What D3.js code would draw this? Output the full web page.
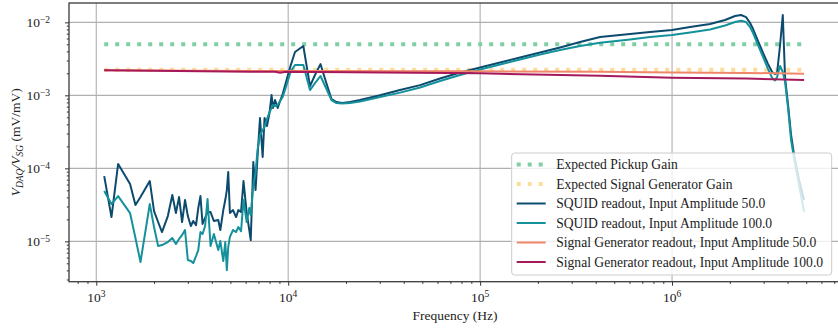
<!DOCTYPE html>
<html>
<head>
<meta charset="utf-8">
<script src="https://cdn.jsdelivr.net/npm/d3@7"></script>
<style>
  body { margin: 0; background: #fff; }
  svg { display: block; font-family: "Liberation Serif", "DejaVu Serif", serif; }
</style>
</head>
<body>
<svg id="chart" width="838" height="330"></svg>
<script>
// Data
const freq = [
    1100, 1200, 1300, 1500, 1600, 1700, 1900, 2000, 2100, 2200,
    2360, 2490, 2600, 2700, 2800, 2900, 3000, 3110, 3200, 3310,
    3400, 3490, 3580, 3690, 3800, 3940, 4100, 4320, 4430, 4590,
    4700, 4790, 4870, 4970, 5160, 5350, 5500, 5680, 5850, 6080,
    6270, 6380, 6580, 6760, 6920, 7130, 7360, 7530, 7750, 7990,
    8190, 8330, 8540, 8820, 9070, 9360, 9740, 10280, 10850, 11990,
    12990, 13790, 14730, 15740, 16810, 17850, 19070, 20990, 23660, 30090,
    38240, 48630, 61810, 78600, 1.0e5, 1.27e5, 1.614e5, 2.053e5, 2.609e5, 3.317e5,
    4.215e5, 6.041e5, 7.681e5, 1.0e6, 1.241e6, 1.578e6, 1.889e6, 2.13e6, 2.289e6, 2.43e6,
    2.55e6, 2.643e6, 2.806e6, 2.98e6, 3.165e6, 3.32e6, 3.441e6, 3.526e6, 3.654e6, 3.775e6,
    3.881e6, 4.023e6, 4.17e6, 4.322e6, 4.589e6, 4.876e6
];

const squid50 = [
    7.84e-5, 2.15e-5, 1.15e-4, 6.09e-5, 3.14e-5, 4.04e-5, 6.70e-5, 2.60e-5, 1.84e-5, 1.34e-5,
    2.22e-5, 4.31e-5, 2.44e-5, 4.04e-5, 1.84e-5, 3.68e-5, 2.22e-5, 1.62e-5, 1.90e-5, 1.67e-5,
    2.86e-5, 4.17e-5, 1.73e-5, 2.09e-5, 2.52e-5, 2.52e-5, 1.90e-5, 1.96e-5, 1.43e-5, 2.68e-5,
    3.68e-5, 5.04e-5, 8.90e-5, 2.44e-5, 2.68e-5, 2.15e-5, 2.68e-5, 2.52e-5, 6.70e-5, 2.44e-5,
    1.43e-5, 1.04e-5, 1.22e-4, 5.04e-5, 1.43e-4, 4.89e-4, 1.43e-4, 4.89e-4, 3.80e-4, 5.72e-4,
    1.01e-3, 6.70e-4, 8.62e-4, 6.70e-4, 8.35e-4, 1.04e-3, 1.52e-3, 2.52e-3, 3.92e-3, 4.74e-3,
    1.34e-3, 1.90e-3, 2.68e-3, 1.52e-3, 8.90e-4, 8.09e-4, 7.84e-4, 8.09e-4, 8.62e-4, 1.00e-3,
    1.18e-3, 1.38e-3, 1.70e-3, 2.05e-3, 2.40e-3, 2.81e-3, 3.30e-3, 3.86e-3, 4.52e-3, 5.37e-3,
    6.29e-3, 6.91e-3, 7.37e-3, 7.84e-3, 8.62e-3, 9.48e-3, 1.075e-2, 1.22e-2, 1.26e-2, 1.18e-2,
    9.78e-3, 8.09e-3, 5.54e-3, 3.80e-3, 2.68e-3, 2.09e-3, 1.96e-3, 2.02e-3, 4.89e-3, 1.26e-2,
    1.73e-3, 7.37e-4, 2.86e-4, 1.52e-4, 6.91e-5, 3.68e-5
];

const squid100 = [
    4.89e-5, 3.24e-5, 4.17e-5, 2.44e-5, 1.11e-5, 5.21e-6, 3.24e-5, 1.57e-5, 8.62e-6, 8.90e-6,
    9.78e-6, 1.11e-5, 9.18e-6, 1.08e-5, 1.22e-5, 1.43e-5, 5.54e-6, 5.37e-6, 5.04e-6, 6.29e-6,
    7.60e-6, 1.34e-5, 1.26e-5, 1.62e-5, 3.80e-5, 8.62e-6, 1.26e-5, 7.60e-6, 1.01e-5, 5.37e-6,
    9.78e-6, 4.04e-6, 8.35e-6, 1.15e-5, 1.43e-5, 1.34e-5, 1.57e-5, 1.38e-5, 3.68e-5, 1.84e-5,
    2.86e-5, 2.29e-5, 5.90e-5, 8.62e-5, 1.78e-4, 2.86e-4, 3.35e-4, 3.68e-4, 4.74e-4, 5.90e-4,
    6.70e-4, 7.37e-4, 7.14e-4, 7.37e-4, 8.35e-4, 9.48e-4, 1.30e-3, 2.09e-3, 2.60e-3, 2.60e-3,
    1.18e-3, 1.47e-3, 1.84e-3, 1.26e-3, 8.62e-4, 7.84e-4, 7.72e-4, 7.84e-4, 8.22e-4, 9.48e-4,
    1.09e-3, 1.28e-3, 1.57e-3, 1.90e-3, 2.26e-3, 2.64e-3, 3.09e-3, 3.62e-3, 4.17e-3, 4.74e-3,
    5.26e-3, 5.81e-3, 6.29e-3, 6.70e-3, 7.25e-3, 7.97e-3, 9.04e-3, 1.01e-2, 1.05e-2, 1.01e-2,
    8.62e-3, 7.14e-3, 4.89e-3, 3.35e-3, 2.29e-3, 1.73e-3, 1.60e-3, 1.78e-3, 2.52e-3, 2.09e-3,
    1.52e-3, 6.70e-4, 2.44e-4, 1.38e-4, 5.90e-5, 2.52e-5
];

const sgFreq = [1100, 6360, 8540, 9070, 9740, 1.0e5, 4.215e5, 1.0e6, 2.43e6, 4.876e6];
const sg50 = [2.20e-3, 2.16e-3, 2.15e-3, 2.15e-3, 2.15e-3, 2.13e-3, 2.11e-3, 2.06e-3, 2.03e-3, 1.98e-3];
const sg100 = [2.20e-3, 2.11e-3, 2.10e-3, 2.04e-3, 2.10e-3, 2.00e-3, 1.86e-3, 1.74e-3, 1.70e-3, 1.62e-3];

const expectedPickup = 5.0e-3;
const expectedSG = 2.25e-3;

const xTicks = [1e3, 1e4, 1e5, 1e6];
const yTicks = [1e-5, 1e-4, 1e-3, 1e-2];

const legendLabels = [
    'Expected Pickup Gain',
    'Expected Signal Generator Gain',
    'SQUID readout, Input Amplitude 50.0',
    'SQUID readout, Input Amplitude 100.0',
    'Signal Generator readout, Input Amplitude 50.0',
    'Signal Generator readout, Input Amplitude 100.0'
];
const colors = ['#7fcfa4', '#fddc9c', '#0d4b6e', '#14919b', '#f0876a', '#a5195b'];

// Margin convention
const margin = {top: 3, right: -3, bottom: 48, left: 69};
const width = 838 - margin.left - margin.right;
const height = 330 - margin.top - margin.bottom - 0.3;

// Scales
const xScale = d3.scaleLog().domain([721, 7.59e6]).range([0, width]);
const yScale = d3.scaleLog().domain([2.80e-6, 1.84e-2]).range([height, 0]);

const svg = d3.select('#chart')
    .append('g')
    .attr('transform', `translate(${margin.left}, ${margin.top})`);

svg.append('clipPath').attr('id', 'clip')
    .append('rect').attr('width', width).attr('height', height);

// Grid
svg.append('g').attr('class', 'grid')
    .selectAll('line.gx').data(xTicks).enter().append('line')
    .attr('x1', d => xScale(d)).attr('x2', d => xScale(d))
    .attr('y1', 0).attr('y2', height)
    .style('stroke', '#b0b0b0').style('stroke-width', 1.1);
svg.select('.grid')
    .selectAll('line.gy').data(yTicks).enter().append('line')
    .attr('x1', 0).attr('x2', width)
    .attr('y1', d => yScale(d)).attr('y2', d => yScale(d))
    .style('stroke', '#b0b0b0').style('stroke-width', 1.1);

// Lines
const lines = svg.append('g').attr('clip-path', 'url(#clip)');
const line = d3.line().x(d => xScale(d[0])).y(d => yScale(d[1]));

const fStart = freq[0], fEnd = freq[freq.length - 1];
const seriesData = [
    [[fStart, expectedPickup], [fEnd, expectedPickup]],
    [[fStart, expectedSG], [fEnd, expectedSG]],
    freq.map((f, i) => [f, squid50[i]]),
    freq.map((f, i) => [f, squid100[i]]),
    sgFreq.map((f, i) => [f, sg50[i]]),
    sgFreq.map((f, i) => [f, sg100[i]])
];

seriesData.forEach((data, i) => {
    const dotted = i < 2;
    lines.append('path')
        .datum(data)
        .attr('d', line)
        .style('fill', 'none')
        .style('stroke', colors[i])
        .style('stroke-width', dotted ? 4 : 2)
        .style('stroke-dasharray', dotted ? '4,7' : null)
        .style('stroke-linejoin', 'round');
});

// Axes
function minors(lo, hi) {
    const out = [];
    for (let e = lo; e <= hi; e++) {
        for (let m = 2; m <= 9; m++) out.push(m * Math.pow(10, e));
    }
    return out;
}
const xMinor = minors(2, 6).filter(d => d > 721 && d < 7.59e6);
const yMinor = minors(-6, -2).filter(d => d > 2.80e-6 && d < 1.84e-2);

function styleAxis(g) {
    g.select('.domain').remove();
    g.selectAll('.tick line').style('stroke', '#333').style('stroke-width', 1);
}

svg.append('g')
    .attr('transform', `translate(0, ${height})`)
    .call(d3.axisBottom(xScale).tickValues(xTicks).tickSize(4).tickFormat(''))
    .call(styleAxis);
svg.append('g')
    .attr('transform', `translate(0, ${height})`)
    .call(d3.axisBottom(xScale).tickValues(xMinor).tickSize(2.2).tickFormat(''))
    .call(styleAxis);
svg.append('g')
    .call(d3.axisLeft(yScale).tickValues(yTicks).tickSize(4).tickFormat(''))
    .call(styleAxis);
svg.append('g')
    .call(d3.axisLeft(yScale).tickValues(yMinor).tickSize(2.2).tickFormat(''))
    .call(styleAxis);

// Tick labels with superscripts
function expLabel(sel, d) {
    const e = Math.round(Math.log10(d));
    sel.append('tspan').text('10');
    sel.append('tspan')
        .text(e < 0 ? '\u2212' + (-e) : String(e))
        .attr('dy', '-0.45em')
        .style('font-size', '9.5px');
}
svg.append('g').selectAll('text').data(xTicks).enter().append('text')
    .attr('x', d => xScale(d)).attr('y', height + 20)
    .attr('text-anchor', 'middle')
    .style('font-size', '13.5px').style('fill', '#222')
    .each(function(d) { expLabel(d3.select(this), d); });
svg.append('g').selectAll('text').data(yTicks).enter().append('text')
    .attr('x', -19).attr('y', d => yScale(d) + 5)
    .attr('text-anchor', 'end')
    .style('font-size', '13.5px').style('fill', '#222')
    .each(function(d) { expLabel(d3.select(this), d); });

// Frame
svg.append('rect')
    .attr('width', width).attr('height', height)
    .style('fill', 'none').style('stroke', '#3a3a3a').style('stroke-width', 1.3);

// Axis labels
svg.append('text')
    .attr('x', width / 2).attr('y', height + 38)
    .attr('text-anchor', 'middle')
    .style('font-size', '13.5px').style('fill', '#222')
    .text('Frequency (Hz)');

const yLabel = svg.append('text')
    .attr('transform', `translate(${-49}, ${height / 2}) rotate(-90)`)
    .attr('text-anchor', 'middle')
    .style('font-size', '13.5px').style('fill', '#222');
yLabel.append('tspan').text('V').style('font-style', 'italic');
yLabel.append('tspan').text('DAQ').style('font-style', 'italic').style('font-size', '9.5px').attr('dy', '3');
yLabel.append('tspan').text('/V').attr('dy', '-3').style('font-style', 'italic');
yLabel.append('tspan').text('SG').style('font-style', 'italic').style('font-size', '9.5px').attr('dy', '3');
yLabel.append('tspan').text(' (mV/mV)').attr('dy', '-3');

// Legend
const legend = svg.append('g')
    .attr('transform', `translate(${511.7 - margin.left}, ${153 - margin.top})`);
legend.append('rect')
    .attr('width', 320).attr('height', 122)
    .attr('rx', 3)
    .style('fill', '#fff').style('fill-opacity', 0.8)
    .style('stroke', '#cccccc').style('stroke-width', 1);
legendLabels.forEach((label, i) => {
    const y = 11.5 + i * 19.5;
    legend.append('line')
        .attr('x1', 5).attr('x2', 34).attr('y1', y).attr('y2', y)
        .style('stroke', colors[i])
        .style('stroke-width', i < 2 ? 4 : 2)
        .style('stroke-dasharray', i < 2 ? '4,7' : null);
    legend.append('text')
        .attr('x', 44.5).attr('y', y + 4.5)
        .style('font-size', '13.6px').style('fill', '#222')
        .text(label);
});
</script>
</body>
</html>
